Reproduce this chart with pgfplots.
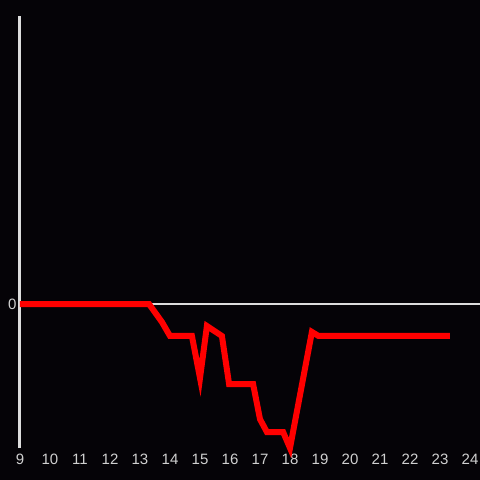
\documentclass[border=0pt]{standalone}
\usepackage{pgfplots}
\pgfplotsset{compat=1.18}
\usepackage{fontspec}
\setmainfont{Liberation Sans}
\definecolor{bg}{HTML}{050307}
\definecolor{axgray}{HTML}{DDDDDD}
\definecolor{lblgray}{HTML}{D0D0D0}
\begin{document}
\begin{tikzpicture}
\fill[bg] (-20pt,-32pt) rectangle (460pt,448pt);
\begin{axis}[
  scale only axis,
  width=460pt, height=432pt,
  xmin=9, xmax=24.333,
  ymin=-1, ymax=2,
  axis line style={draw=none},
  xtick={9,10,...,24},
  ytick={0},
  major tick length=0pt,
  ymajorgrids,
  grid style={axgray, line width=2.5pt},
  tick label style={font=\fontsize{15}{17}\selectfont, text=lblgray},
  /pgf/number format/assume math mode=true,
  xticklabel style={anchor=north, text height=11pt, text depth=0pt, yshift=-2pt},
  yticklabel style={xshift=0pt},
  clip=false,
]
\draw[axgray, line width=3pt] (rel axis cs:0,0) -- (rel axis cs:0,1);
\addplot[color=red, line width=6pt, line join=miter] coordinates {
(9,0) (13.3,0) (13.73,-0.125) (14.0,-0.222) (14.73,-0.222) (15.0,-0.514)
(15.23,-0.153) (15.73,-0.222) (15.97,-0.556) (16.15,-0.556) (16.77,-0.556)
(17.0,-0.8) (17.23,-0.889) (17.77,-0.889) (18.0,-1.0) (18.73,-0.194)
(18.95,-0.222) (23.33,-0.222)
};
\end{axis}
\pgfresetboundingbox
\path[use as bounding box] (-20pt,-32pt) rectangle (460pt,448pt);
\end{tikzpicture}
\end{document}
